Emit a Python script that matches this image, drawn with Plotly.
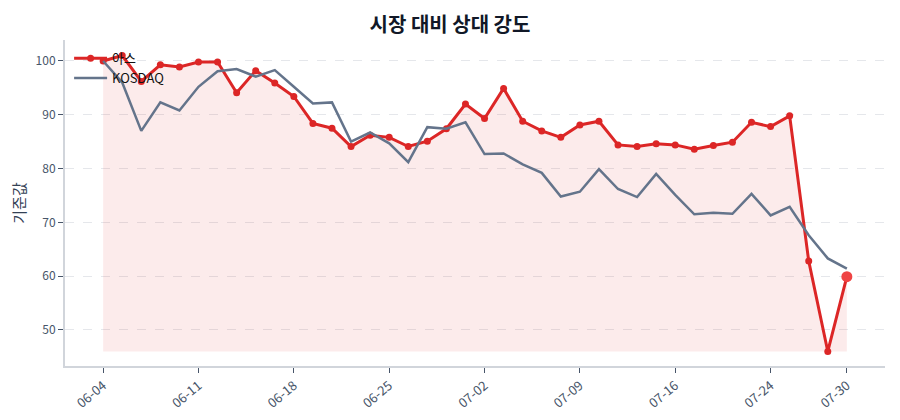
import plotly.graph_objects as go

# trading days (MM-DD)
dates = [
    "06-04", "06-05", "06-06", "06-07", "06-10", "06-11", "06-12", "06-13", "06-14", "06-17",
    "06-18", "06-19", "06-20", "06-21", "06-24", "06-25", "06-26", "06-27", "06-28", "07-01",
    "07-02", "07-03", "07-04", "07-05", "07-08", "07-09", "07-10", "07-11", "07-12", "07-15",
    "07-16", "07-18", "07-19", "07-22", "07-23", "07-24", "07-25", "07-26", "07-29", "07-30",
]

# relative strength, rebased to 100
stock_vals = [
    100.0, 101.0, 96.2, 99.3, 98.9, 99.8, 99.8, 94.1, 98.2, 95.9,
    93.4, 88.4, 87.5, 84.1, 86.2, 85.8, 84.1, 85.1, 87.4, 92.0,
    89.3, 94.9, 88.8, 87.0, 85.8, 88.1, 88.8, 84.4, 84.1, 84.6,
    84.4, 83.6, 84.3, 84.9, 88.6, 87.8, 89.8, 62.8, 46.0, 59.9,
]
kosdaq_vals = [
    100.0, 96.0, 87.0, 92.3, 90.8, 95.2, 98.1, 98.5, 97.1, 98.3,
    95.2, 92.1, 92.3, 85.0, 86.7, 84.7, 81.2, 87.7, 87.4, 88.6,
    82.7, 82.8, 80.8, 79.2, 74.8, 75.7, 79.9, 76.2, 74.7, 79.0,
    75.1, 71.5, 71.8, 71.6, 75.3, 71.3, 72.9, 67.6, 63.3, 61.4,
]

tick_labels = ["06-04", "06-11", "06-18", "06-25", "07-02", "07-09", "07-16", "07-24", "07-30"]

RED = "#dc2626"
SLATE = "#64748b"
FONT = "Noto Sans CJK KR"

base = min(stock_vals)

fig = go.Figure()

# invisible floor + shaded area (kept out of the legend)
fig.add_trace(go.Scatter(
    x=dates, y=[base] * len(dates), mode="lines",
    line=dict(width=0, color="rgba(0,0,0,0)"),
    showlegend=False, hoverinfo="skip",
))
fig.add_trace(go.Scatter(
    x=dates, y=stock_vals, mode="lines",
    line=dict(width=0, color="rgba(0,0,0,0)"),
    fill="tonexty", fillcolor="rgba(220,38,38,0.09)",
    showlegend=False, hoverinfo="skip",
))

fig.add_trace(go.Scatter(
    x=dates, y=stock_vals, name="아스", mode="lines+markers",
    line=dict(color=RED, width=3),
    marker=dict(size=7, color=RED),
))

fig.add_trace(go.Scatter(
    x=dates, y=kosdaq_vals, name="KOSDAQ", mode="lines",
    line=dict(color=SLATE, width=2.5),
))

# highlight latest point
fig.add_trace(go.Scatter(
    x=dates[-1:], y=stock_vals[-1:], mode="markers",
    marker=dict(size=11, color="#ef4444"),
    showlegend=False,
))

# page body adds an 8px offset, so the figure is sized a bit smaller
fig.update_layout(
    width=884, height=404,
    margin=dict(l=57, r=7, t=32, b=46),
    paper_bgcolor="white", plot_bgcolor="white",
    font=dict(family=FONT, size=12, color="#475569"),
    title=dict(text="<b>시장 대비 상대 강도</b>", x=0.5, xanchor="center",
               y=0.958, yanchor="middle",
               font=dict(size=20, color="#111827", family=FONT)),
    legend=dict(x=0.005, y=0.99, xanchor="left", yanchor="top", traceorder="normal",
                bgcolor="rgba(0,0,0,0)", font=dict(size=13, color="#111111"),
                tracegroupgap=2, itemwidth=33),
    showlegend=True,
)

fig.update_xaxes(
    type="category", tickmode="array", tickvals=tick_labels, ticktext=tick_labels,
    tickangle=-40, range=[-2, 41], automargin=False,
    showgrid=False, showline=True, linecolor="#d1d5db", linewidth=2,
    ticks="outside", ticklen=5, tickcolor="#475569",
    tickfont=dict(size=13, color="#475569"),
)
fig.update_yaxes(
    title=dict(text="기준값", font=dict(size=15, color="#334155"), standoff=9),
    range=[43.3, 103.9], dtick=10, automargin=False,
    showgrid=True, gridcolor="#e5e7eb", griddash="dash", gridwidth=1,
    showline=True, linecolor="#d1d5db", linewidth=2,
    ticks="outside", ticklen=5, tickcolor="#475569",
    tickfont=dict(size=12, color="#475569"), zeroline=False,
)

fig.write_html("out.html")
